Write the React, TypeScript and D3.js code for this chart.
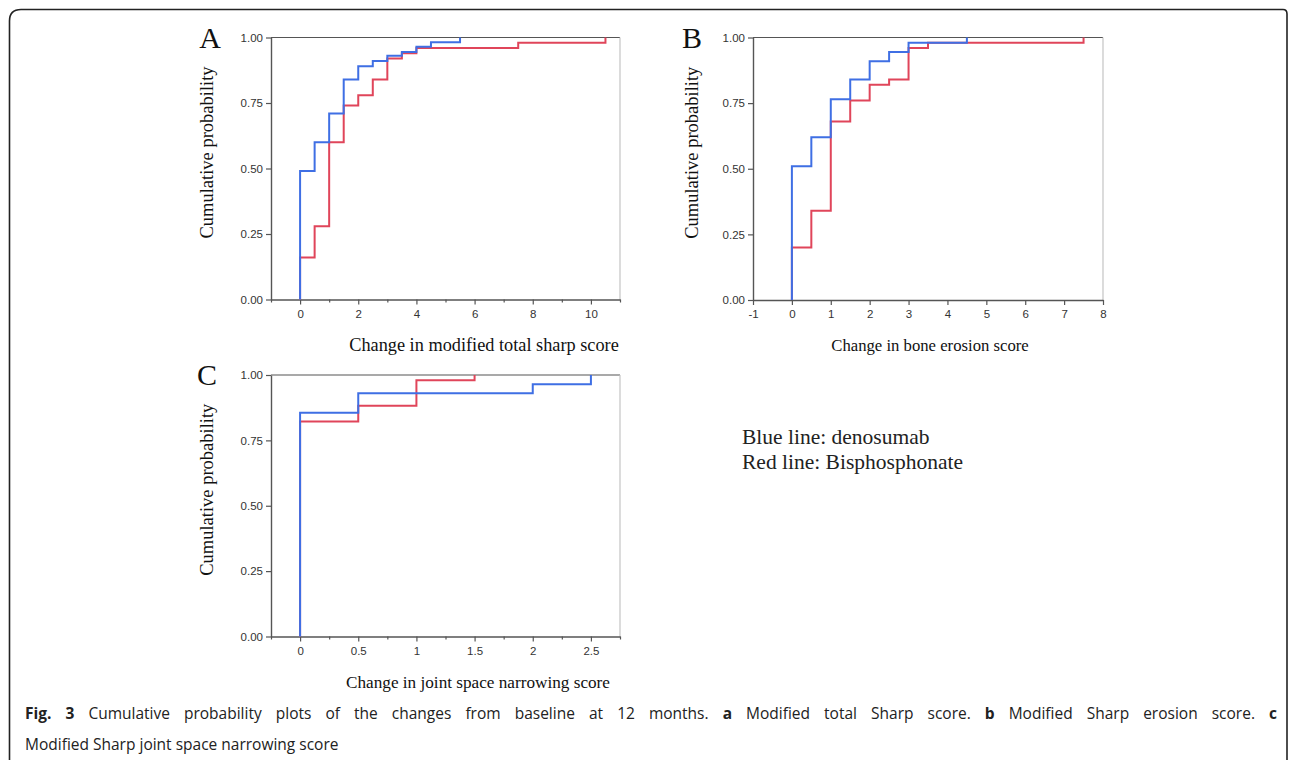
import React, { useEffect, useRef } from "react";
import * as d3 from "d3";

// panel A : modified total Sharp score
const aBlueX = [0, 0.5, 1, 1.5, 2, 2.5, 3, 3.5, 4, 4.5, 5.5];
const aBlueY = [0.49, 0.6, 0.71, 0.84, 0.89, 0.91, 0.93, 0.945, 0.965, 0.982, 1.0];
const aRedX = [0, 0.5, 1, 1.5, 2, 2.5, 3, 3.5, 4, 7.5, 10.5];
const aRedY = [0.16, 0.28, 0.6, 0.74, 0.78, 0.84, 0.92, 0.94, 0.96, 0.98, 1.0];
const aTicks = [0, 2, 4, 6, 8, 10];
const aMinor = [-1, 1, 3, 5, 7, 9, 11];

// panel B : erosion score
const bBlueX = [0, 0.5, 1, 1.5, 2, 2.5, 3, 4.5];
const bBlueY = [0.51, 0.62, 0.765, 0.84, 0.91, 0.945, 0.98, 1.0];
const bRedX = [0, 0.5, 1, 1.5, 2, 2.5, 3, 3.5, 7.5];
const bRedY = [0.2, 0.34, 0.68, 0.76, 0.82, 0.84, 0.96, 0.98, 1.0];
const bTicks = [-1, 0, 1, 2, 3, 4, 5, 6, 7, 8];

// panel C : joint space narrowing
const cBlueX = [0, 0.5, 2, 2.5];
const cBlueY = [0.856, 0.93, 0.965, 1.0];
const cRedX = [0, 0.5, 1, 1.5];
const cRedY = [0.822, 0.882, 0.98, 1.0];
const cTicks = [0, 0.5, 1, 1.5, 2, 2.5];
const cMinor = [-0.25, 0.25, 0.75, 1.25, 1.75, 2.25, 2.75];

const yTicks = [0, 0.25, 0.5, 0.75, 1.0];

const BLUE = "#3f6fe4";
const RED = "#e0455a";
const SERIF = "'Liberation Serif', 'Times New Roman', serif";
const SANS = "'Liberation Sans', Arial, sans-serif";

type PanelDef = {
  letter: string;
  xDomain: [number, number];
  ticks: number[];
  minor: number[];
  x0: number;
  x1: number;
  y0: number;
  y1: number;
  title: string;
  titleX: number;
  titleSize: number;
  yTitleX: number;
  letterX: number;
  blue: [number[], number[]];
  red: [number[], number[]];
};

const panels: PanelDef[] = [
  {
    letter: "A",
    xDomain: [-1, 11],
    ticks: aTicks,
    minor: aMinor,
    x0: 271, x1: 620, y0: 37.5, y1: 299.5,
    title: "Change in modified total sharp score",
    titleX: 484, titleSize: 18.3, yTitleX: 206.5, letterX: 210,
    blue: [aBlueX, aBlueY],
    red: [aRedX, aRedY],
  },
  {
    letter: "B",
    xDomain: [-1, 8],
    ticks: bTicks,
    minor: [],
    x0: 753, x1: 1103, y0: 37.5, y1: 300,
    title: "Change in bone erosion score",
    titleX: 930, titleSize: 16.7, yTitleX: 691.5, letterX: 692,
    blue: [bBlueX, bBlueY],
    red: [bRedX, bRedY],
  },
  {
    letter: "C",
    xDomain: [-0.25, 2.75],
    ticks: cTicks,
    minor: cMinor,
    x0: 271, x1: 620, y0: 375, y1: 636.5,
    title: "Change in joint space narrowing score",
    titleX: 478, titleSize: 17.2, yTitleX: 206.5, letterX: 207,
    blue: [cBlueX, cBlueY],
    red: [cRedX, cRedY],
  },
];

const App = () => {
  const svgRef = useRef<SVGSVGElement>(null);

  useEffect(() => {
    const svg = d3.select(svgRef.current);
    svg.selectAll("*").remove();

    // rounded outer frame (open at the bottom)
    svg
      .append("path")
      .attr("d", "M9.5,770 L9.5,21 Q9.5,9.5 21,9.5 L1283,9.5 Q1287,9.5 1287,14 L1287,770")
      .attr("fill", "none")
      .attr("stroke", "#222")
      .attr("stroke-width", 1.6);

    panels.forEach((p) => {
      const x = d3.scaleLinear().domain(p.xDomain).range([p.x0, p.x1]);
      const y = d3.scaleLinear().domain([0, 1]).range([p.y1, p.y0]);
      const g = svg.append("g");

      // frame top/right
      g.append("line")
        .attr("x1", p.x0).attr("x2", p.x1)
        .attr("y1", p.y0).attr("y2", p.y0)
        .attr("stroke", "#555").attr("stroke-width", 1.2);
      g.append("line")
        .attr("x1", p.x1).attr("x2", p.x1)
        .attr("y1", p.y0).attr("y2", p.y1)
        .attr("stroke", "#c4c4c4").attr("stroke-width", 1.2);

      // axes
      const xa = g
        .append("g")
        .attr("transform", `translate(0,${p.y1})`)
        .call(
          d3.axisBottom(x).tickValues(p.ticks).tickFormat((d) => String(d))
            .tickSizeInner(5).tickSizeOuter(0).tickPadding(5)
        );
      g.append("g")
        .attr("transform", `translate(0,${p.y1})`)
        .call(d3.axisBottom(x).tickValues(p.minor).tickFormat(() => "").tickSizeInner(3).tickSizeOuter(0))
        .call((s) => s.select(".domain").remove());
      const ya = g
        .append("g")
        .attr("transform", `translate(${p.x0},0)`)
        .call(
          d3.axisLeft(y).tickValues(yTicks).tickFormat(d3.format(".2f"))
            .tickSizeInner(5).tickSizeOuter(0).tickPadding(3)
        );
      [xa, ya].forEach((a) => {
        a.select(".domain").attr("stroke", "#555").attr("stroke-width", 1.4);
        a.selectAll(".tick text")
          .attr("fill", "#333")
          .style("font-family", SANS)
          .style("font-size", "11.5px");
      });
      g.selectAll(".tick line").attr("stroke", "#555").attr("stroke-width", 1.2);

      // step lines
      const line = d3
        .line<[number, number]>()
        .x((d) => x(d[0]))
        .y((d) => y(d[1]))
        .curve(d3.curveStepAfter);
      const pts = (s: [number[], number[]]): [number, number][] => [
        [s[0][0], 0] as [number, number],
        ...s[0].map((v, i) => [v, s[1][i]] as [number, number]),
      ];
      [
        [p.red, RED],
        [p.blue, BLUE],
      ].forEach(([s, c]) => {
        g.append("path")
          .attr("d", line(pts(s as [number[], number[]])))
          .attr("fill", "none")
          .attr("stroke", c as string)
          .attr("stroke-width", 2);
      });

      // titles
      g.append("text")
        .attr("x", p.titleX)
        .attr("y", p.y1 + 51)
        .attr("text-anchor", "middle")
        .style("font-family", SERIF)
        .style("font-size", `${p.titleSize}px`)
        .attr("fill", "#111")
        .text(p.title);
      g.append("text")
        .attr("transform", `translate(${p.yTitleX},${(p.y0 + p.y1) / 2 - 16}) rotate(-90)`)
        .attr("text-anchor", "middle")
        .attr("dy", "0.35em")
        .style("font-family", SERIF)
        .style("font-size", "18.5px")
        .attr("fill", "#111")
        .text("Cumulative probability");
      g.append("text")
        .attr("x", p.letterX)
        .attr("y", p.y0 + 10)
        .attr("text-anchor", "middle")
        .style("font-family", SERIF)
        .style("font-size", "30px")
        .attr("fill", "#111")
        .text(p.letter);
    });

    // legend text
    svg.append("text").attr("x", 742).attr("y", 444)
      .style("font-family", SERIF).style("font-size", "21.5px").attr("fill", "#222")
      .text("Blue line: denosumab");
    svg.append("text").attr("x", 742).attr("y", 469)
      .style("font-family", SERIF).style("font-size", "21.5px").attr("fill", "#222")
      .text("Red line: Bisphosphonate");

    // caption (first line justified)
    const sans = "'Open Sans', 'Noto Sans', sans-serif";
    const cap1 = svg.append("text").attr("x", 25).attr("y", 719)
      .style("font-family", sans).style("font-size", "15.5px").attr("fill", "#222");
    const parts1: [string, boolean][] = [
      ["Fig. 3", true],
      [" Cumulative probability plots of the changes from baseline at 12 months. ", false],
      ["a", true],
      [" Modified total Sharp score. ", false],
      ["b", true],
      [" Modified Sharp erosion score. ", false],
      ["c", true],
    ];
    parts1.forEach(([t, b]) => {
      cap1.append("tspan").style("font-weight", b ? "700" : "400").text(t);
    });
    const node = cap1.node() as SVGTextElement;
    const natural = node.getComputedTextLength();
    const spaces = parts1.map((d) => d[0]).join("").split(" ").length - 1;
    cap1.style("word-spacing", `${Math.max(0, (1252 - natural) / spaces)}px`);
    svg.append("text").attr("x", 25).attr("y", 750)
      .style("font-family", sans).style("font-size", "15.5px").attr("fill", "#222")
      .text("Modified Sharp joint space narrowing score");
  }, []);

  return (
    <svg
      ref={svgRef}
      width={1290}
      height={760}
      style={{ position: "absolute", left: 0, top: 0, background: "#fff" }}
    />
  );
};

export default App;
